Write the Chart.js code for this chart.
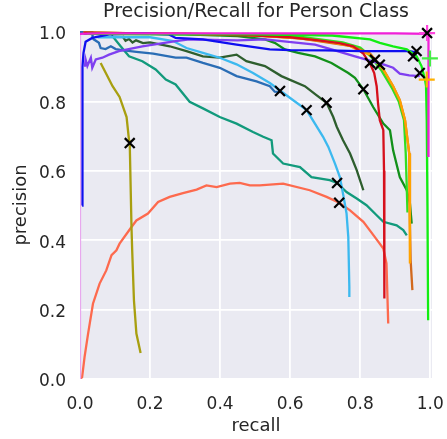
<!DOCTYPE html>
<html>
<head>
<meta charset="utf-8">
<script src="https://cdn.jsdelivr.net/npm/chart.js@4"></script>
<style>
  body { margin: 0; background: #fff; }
  #wrap { width: 447px; height: 439px; }
</style>
</head>
<body>
<div id="wrap"><canvas id="prChart" width="447" height="439"></canvas></div>
<script>
// recall/precision pairs, one array per curve
const magentaPR = [[0, 0], [0, 0.995], [0.05, 0.996], [0.5, 0.996], [0.9, 0.996], [0.995, 0.995], [0.995, 0.9], [0.995, 0.75], [0.995, 0.64]];
const limePR = [[0.02, 0.995], [0.5, 0.993], [0.72, 0.99], [0.828, 0.979], [0.856, 0.969], [0.894, 0.959], [0.933, 0.95], [0.961, 0.93], [0.975, 0.902], [0.985, 0.863], [0.988, 0.844], [0.99, 0.746], [0.992, 0.5], [0.994, 0.169]];
const redPR = [[0.01, 0.998], [0.3, 0.995], [0.5, 0.99], [0.6, 0.985], [0.675, 0.977], [0.74, 0.968], [0.78, 0.959], [0.809, 0.938], [0.83, 0.905], [0.84, 0.882], [0.847, 0.844], [0.851, 0.794], [0.856, 0.746], [0.866, 0.717], [0.868, 0.6], [0.869, 0.4], [0.869, 0.232]];
const chocolatePR = [[0.01, 0.998], [0.45, 0.993], [0.628, 0.982], [0.771, 0.96], [0.828, 0.938], [0.866, 0.892], [0.894, 0.844], [0.913, 0.804], [0.928, 0.746], [0.94, 0.65], [0.942, 0.45], [0.944, 0.342], [0.949, 0.256]];
const orangePR = [[0.01, 0.998], [0.45, 0.993], [0.53, 0.988], [0.628, 0.982], [0.718, 0.97], [0.771, 0.96], [0.79, 0.95], [0.828, 0.935], [0.866, 0.892], [0.894, 0.844], [0.913, 0.804], [0.928, 0.746], [0.94, 0.65], [0.942, 0.457], [0.942, 0.333]];
const limeGreenPR = [[0.01, 0.998], [0.6, 0.99], [0.75, 0.97], [0.8, 0.955], [0.83, 0.93], [0.86, 0.89], [0.89, 0.84], [0.91, 0.8], [0.925, 0.746], [0.93, 0.65], [0.933, 0.55], [0.935, 0.48]];
const greenPR = [[0.01, 0.995], [0.3, 0.993], [0.45, 0.988], [0.528, 0.979], [0.556, 0.969], [0.585, 0.95], [0.623, 0.94], [0.671, 0.93], [0.718, 0.911], [0.766, 0.882], [0.785, 0.868], [0.809, 0.835], [0.837, 0.784], [0.866, 0.736], [0.885, 0.717], [0.894, 0.659], [0.913, 0.582], [0.933, 0.544], [0.942, 0.506], [0.947, 0.448]];
const bluePR = [[0.006, 0.5], [0.006, 0.8], [0.008, 0.9], [0.01, 0.94], [0.016, 0.972], [0.035, 0.983], [0.083, 0.993], [0.178, 0.996], [0.254, 0.993], [0.273, 0.983], [0.351, 0.979], [0.447, 0.964], [0.542, 0.95], [0.6, 0.948], [0.7, 0.947], [0.8, 0.945], [0.94, 0.945], [0.955, 0.942], [0.961, 0.935]];
const purplePR = [[0.014, 0.9], [0.016, 0.921], [0.021, 0.902], [0.031, 0.926], [0.035, 0.897], [0.045, 0.921], [0.064, 0.926], [0.083, 0.935], [0.111, 0.945], [0.178, 0.959], [0.273, 0.974], [0.313, 0.979], [0.45, 0.976], [0.528, 0.979], [0.671, 0.964], [0.718, 0.95], [0.785, 0.93], [0.866, 0.907], [0.894, 0.897], [0.913, 0.88], [0.94, 0.875], [0.97, 0.873]];
const steelBluePR = [[0, 1.0], [0.035, 1.0], [0.036, 0.983], [0.039, 0.979], [0.054, 0.969], [0.059, 0.954], [0.073, 0.951], [0.088, 0.959], [0.102, 0.951], [0.12, 0.948], [0.161, 0.943], [0.209, 0.938], [0.273, 0.926], [0.304, 0.926], [0.351, 0.911], [0.399, 0.897], [0.447, 0.873], [0.504, 0.858], [0.542, 0.844], [0.556, 0.828], [0.575, 0.827]];
const skyBluePR = [[0.05, 0.985], [0.2, 0.985], [0.266, 0.974], [0.304, 0.954], [0.351, 0.94], [0.399, 0.926], [0.447, 0.907], [0.494, 0.882], [0.542, 0.853], [0.6, 0.81], [0.647, 0.775], [0.694, 0.698], [0.709, 0.669], [0.728, 0.621], [0.742, 0.582], [0.751, 0.534], [0.761, 0.477], [0.766, 0.409], [0.769, 0.265], [0.769, 0.236]];
const darkGreenPR = [[0.121, 0.988], [0.13, 0.975], [0.14, 0.98], [0.15, 0.97], [0.16, 0.976], [0.18, 0.968], [0.2, 0.97], [0.256, 0.959], [0.304, 0.945], [0.351, 0.93], [0.399, 0.926], [0.447, 0.935], [0.475, 0.916], [0.528, 0.902], [0.575, 0.873], [0.642, 0.844], [0.675, 0.818], [0.704, 0.796], [0.723, 0.755], [0.733, 0.727], [0.751, 0.688], [0.771, 0.65], [0.79, 0.602], [0.809, 0.544]];
const tealPR = [[0.09, 0.99], [0.097, 0.983], [0.116, 0.959], [0.14, 0.93], [0.178, 0.916], [0.216, 0.892], [0.245, 0.863], [0.273, 0.849], [0.313, 0.799], [0.351, 0.78], [0.399, 0.755], [0.447, 0.736], [0.494, 0.712], [0.523, 0.698], [0.547, 0.688], [0.551, 0.65], [0.58, 0.621], [0.628, 0.611], [0.661, 0.582], [0.713, 0.573], [0.734, 0.565], [0.761, 0.539], [0.79, 0.52], [0.818, 0.501], [0.847, 0.472], [0.866, 0.453], [0.904, 0.443], [0.923, 0.429], [0.933, 0.414]];
const olivePR = [[0.059, 0.911], [0.093, 0.844], [0.113, 0.813], [0.133, 0.755], [0.14, 0.688], [0.142, 0.68], [0.147, 0.438], [0.149, 0.371], [0.154, 0.227], [0.161, 0.131], [0.173, 0.075]];
const coralPR = [[0, 0], [0.006, 0.005], [0.013, 0.063], [0.023, 0.13], [0.037, 0.217], [0.056, 0.275], [0.075, 0.313], [0.09, 0.357], [0.104, 0.371], [0.113, 0.39], [0.147, 0.438], [0.161, 0.457], [0.194, 0.477], [0.223, 0.51], [0.256, 0.525], [0.294, 0.536], [0.333, 0.546], [0.361, 0.558], [0.39, 0.553], [0.428, 0.563], [0.456, 0.565], [0.485, 0.558], [0.513, 0.558], [0.58, 0.563], [0.656, 0.544], [0.704, 0.525], [0.74, 0.508], [0.771, 0.486], [0.809, 0.453], [0.842, 0.409], [0.866, 0.376], [0.875, 0.333], [0.88, 0.16]];

// operating points (black x) and end markers (coloured +)
const opPoints = [[0.142, 0.68], [0.571, 0.83], [0.647, 0.775], [0.704, 0.796], [0.734, 0.565], [0.74, 0.508], [0.809, 0.835], [0.842, 0.92], [0.856, 0.906], [0.828, 0.911], [0.961, 0.945], [0.951, 0.93], [0.97, 0.882], [0.991, 0.997]];
const plusMagenta = [[0.991, 0.997]];
const plusLime = [[0.999, 0.924]];
const plusOrange = [[0.99, 0.863]];

const toXY = arr => arr.map(p => ({ x: p[0], y: p[1] }));

function curve(data, color) {
    return {
        data: toXY(data),
        showLine: true,
        borderColor: color,
        backgroundColor: color,
        borderWidth: 2.3,
        pointRadius: 0,
        tension: 0,
        fill: false
    };
}

function marks(data, style, color, radius) {
    return {
        data: toXY(data),
        showLine: false,
        clip: false,
        pointStyle: style,
        pointRadius: radius,
        pointBorderColor: color,
        pointBorderWidth: 2.2,
        backgroundColor: color
    };
}

const plotBg = {
    id: 'plotBg',
    beforeDraw(chart) {
        const { ctx, chartArea: a } = chart;
        ctx.save();
        ctx.fillStyle = '#fff';
        ctx.fillRect(0, 0, chart.width, chart.height);
        ctx.fillStyle = '#eaeaf2';
        ctx.fillRect(a.left, a.top, a.right - a.left, a.bottom - a.top);
        ctx.restore();
    },
    afterDraw(chart) {
        const { ctx, chartArea: a } = chart;
        ctx.save();
        ctx.font = '19px "DejaVu Sans"';
        ctx.fillStyle = '#262626';
        ctx.textAlign = 'center';
        ctx.textBaseline = 'middle';
        ctx.fillText('Precision/Recall for Person Class', (a.left + a.right) / 2, 12);
        ctx.restore();
    }
};

const tickFont = { family: 'DejaVu Sans', size: 17 };
const labelFont = { family: 'DejaVu Sans', size: 18 };

// the part of the magenta curve sitting on the left edge shows up faint
const magentaSet = curve(magentaPR, '#f020d8');
magentaSet.clip = 0;
magentaSet.segment = {
    borderColor: c => (c.p0.parsed.x === 0 && c.p1.parsed.x === 0 ? '#e8a8ee' : undefined)
};

new Chart(document.getElementById('prChart'), {
    type: 'scatter',
    data: {
        datasets: [
            marks(opPoints, 'crossRot', '#000', 7),
            marks(plusMagenta, 'cross', '#ff44dd', 8),
            marks(plusLime, 'cross', '#44ee44', 8),
            marks(plusOrange, 'cross', '#ffb000', 8),
            magentaSet,
            curve(limePR, '#11ee11'),
            curve(bluePR, '#0f0ff0'),
            curve(purplePR, '#7f3ff0'),
            curve(redPR, '#d6101c'),
            curve(orangePR, '#ffa200'),
            curve(chocolatePR, '#d2691e'),
            curve(limeGreenPR, '#33dd22'),
            curve(greenPR, '#12901a'),
            curve(steelBluePR, '#2a6db5'),
            curve(skyBluePR, '#3cb9ef'),
            curve(darkGreenPR, '#2e5e2e'),
            curve(tealPR, '#129a7c'),
            curve(olivePR, '#a89f10'),
            curve(coralPR, '#fd6a4e')
        ]
    },
    options: {
        responsive: false,
        animation: false,
        layout: { padding: { top: 31, right: 15, left: 0, bottom: 0 } },
        plugins: {
            legend: { display: false },
            tooltip: { enabled: false }
        },
        scales: {
            x: {
                type: 'linear',
                min: 0,
                max: 1.005,
                afterFit: s => { s.height = 60; s.paddingLeft = 0; s.paddingRight = 0; },
                border: { display: false },
                grid: { color: '#fff', lineWidth: 1.8, drawTicks: false },
                ticks: {
                    stepSize: 0.2,
                    includeBounds: false,
                    padding: 15,
                    font: tickFont,
                    color: '#262626',
                    callback: v => v.toFixed(1)
                },
                title: { display: true, text: 'recall', font: labelFont, color: '#262626', padding: { top: 0, bottom: 2 } }
            },
            y: {
                type: 'linear',
                min: 0,
                max: 1.003,
                afterFit: s => { s.width = 80; s.paddingTop = 0; s.paddingBottom = 0; },
                border: { display: false },
                grid: { color: '#fff', lineWidth: 1.8, drawTicks: false },
                ticks: {
                    stepSize: 0.2,
                    includeBounds: false,
                    padding: 14,
                    labelOffset: 3,
                    font: tickFont,
                    color: '#262626',
                    callback: v => v.toFixed(1)
                },
                title: { display: true, text: 'precision', font: labelFont, color: '#262626', padding: { top: 11, bottom: 0 } }
            }
        }
    },
    plugins: [plotBg]
});
</script>
</body>
</html>
